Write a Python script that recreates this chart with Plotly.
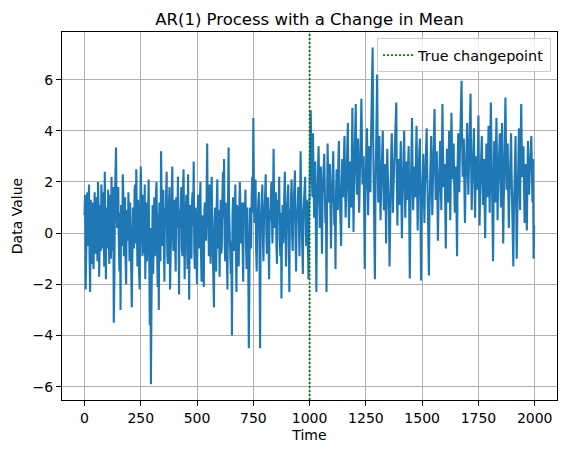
import plotly.graph_objects as go

# values: one sample every 5 time steps, plus the in-between samples
step = 5
changepoint = 1000

values_0 = [0.7, -2.2, 0.9, -0.5, 1.9, -2.3, 0.4, 1.2, -1.4, 1.6, -0.8, 0.3, 2.0, -1.7, 1.1, 1.9, -0.6, 0.8, 2.4, -1.8,
            0.5, 1.7, -1.2, 0.9, 2.2, -0.7, -3.5, 1.3, 3.35, 0.2, 1.8, -1.5, -3.0, 0.6, 2.3, -0.9, 1.4, -2.0, 0.8, 1.6,
            -1.1, 0.4, -2.9, 1.0, -0.6, 1.9, 2.5, -1.3, 0.7, -2.2, 2.6, 0.1, 1.5, -0.8, -1.8, 1.2, -0.3, 2.1, -3.6, -5.9,
            0.9, -1.6, 1.4, -0.4, 2.0, -2.1, -3.0, 0.8, 3.2, -0.5, 1.7, -1.9, 0.3, 2.4, -1.2, 1.0, -2.2, 0.5, 2.6, -0.7,
            1.3, -1.5, 0.6, 2.2, -2.4, 0.2, 1.8, -0.9, 2.5, -1.8, 0.9, -0.2, 2.3, -2.6, 1.1, -1.0, 1.6, 2.8, -1.4, 0.4]
values_1 = [-2.0, 1.5, -0.6, 2.0, -1.9, 0.7, -2.1, 1.2, -0.3, 3.5, 0.5, 1.9, -1.2, 2.2, -0.8, -2.9, 1.0, -1.5, 2.1, 0.2,
            -1.7, 1.3, -0.5, 2.4, 2.9, -1.1, 0.6, -2.2, 3.35, 0.1, -1.6, -4.0, 1.4, -0.7, 1.9, -2.3, 0.8, -1.3, 2.0, -0.4,
            1.2, -1.9, 0.5, 1.7, -1.4, 0.3, -4.5, 1.0, -0.6, 2.2, 4.5, 0.4, 2.1, -1.5, 0.8, 1.6, -4.5, 0.6, 1.9, -1.1,
            0.9, 2.3, -0.8, 1.4, -1.8, 0.5, 2.0, -0.4, 3.3, 0.2, 1.6, -1.2, 0.7, 2.2, -0.9, -2.55, 1.1, 0.0, 2.4, -1.3,
            0.8, 1.9, -2.3, 0.4, 2.1, -0.7, 1.2, 2.45, -1.5, 0.6, 1.8, -0.9, 3.2, 0.3, -1.6, 1.5, 2.2, -0.5, 1.0, -1.8]
values_2 = [1.6, 4.8, 2.2, 3.9, 0.6, 2.8, -2.3, 1.5, 3.4, 0.2, 2.6, -0.8, 1.9, 3.1, 0.4, -2.3, 3.5, 1.2, 2.7, -0.6,
            1.8, 3.2, 0.3, -1.4, 2.5, 0.9, 3.6, 1.1, -0.5, 2.9, 1.4, 3.8, 0.6, 2.3, 4.3, 0.2, 2.8, 1.0, 4.9, 0.05,
            3.3, 5.05, 1.5, 3.7, 0.8, 2.6, 5.25, 1.9, 3.0, -1.4, 2.2, 4.1, 0.7, 3.4, 1.6, 4.4, 7.25, 2.0, -1.8, 3.1,
            6.2, 1.2, 3.8, 0.5, 2.4, 4.0, 0.9, 2.7, -0.4, 3.3, 1.5, -1.3, 2.1, 3.9, 0.8, 2.5, 4.2, 5.1, 0.3, 2.9,
            1.1, 3.6, -0.2, 2.3, 4.0, 0.6, 2.8, 1.3, 3.4, -1.77, 1.9, 4.5, 0.9, 2.6, 1.4, 4.2, 0.1, 2.9, 3.7, -1.85]
values_3 = [1.5, 3.1, 0.4, 2.6, 4.1, 1.0, -1.65, 2.3, 3.8, 0.7, 2.9, 4.85, 1.3, 3.2, -0.3, 2.4, 3.6, 0.9, 5.05, 1.8,
            2.7, -0.6, 3.3, 1.2, 4.0, 0.5, 4.7, 2.1, 3.5, 0.8, 2.6, -0.9, 3.9, 1.6, 4.4, 5.95, 2.2, 3.7, 0.4, 2.9,
            4.3, 1.5, 3.4, 5.45, 0.9, 2.8, 4.1, 0.6, 3.0, 1.7, 4.6, 0.3, 2.5, 3.8, 1.1, 2.9, -0.2, 3.5, 1.4, 4.2,
            0.8, 5.1, 2.3, -1.1, 3.6, 1.2, 4.5, 0.5, 2.7, 3.9, 1.0, 4.3, -0.4, 2.4, 5.3, 1.7, 3.5, 0.2, 2.8, 3.9,
            0.6, -1.3, 2.5, 3.8, -1.0, 1.9, 4.1, 0.9, 5.05, 2.2, 3.4, 0.4, 2.7, 0.1, 3.6, 1.5, 3.0, 3.8, 1.2, -1.0]

# in-between samples (time 2.5, 7.5, ...)
mid_0 = [1.5, -0.9, 1.6, 0.8, -1.0, 1.3, -1.2, 0.5, 0.6, -0.4, 1.4, -1.1, 0.9, 0.6, -0.7, 1.2, 1.6, -1.3, 0.2, 1.0,
         -0.6, 0.4, 1.5, -1.0, 0.6, 1.8, -1.9, 2.1, 0.9, 1.5, -0.4, 0.8, 1.1, -0.5, 1.5, 0.7, -1.2, 0.9, -0.3, 0.4,
         1.2, -1.4, 0.8, 0.2, 1.7, -0.4, 0.6, 1.3, -1.6, 0.9, 1.1, -0.9, 0.3, 1.9, 0.4, -1.1, 1.4, -0.8, 0.2, -2.8,
         1.1, 0.3, -0.9, 1.6, -0.6, 0.8, 1.2, -1.1, 1.5, 0.6, -0.4, 1.0, 1.6, -0.8, 0.4, 1.8, -0.7, 1.5, 0.2, 1.1,
         -0.5, 1.4, 0.2, -1.3, 0.9, 1.1, -0.6, 1.7, 0.1, 0.7, 1.5, -1.4, 0.4, 0.8, -0.3, 1.2, 0.3, -0.6, 1.0, -1.2]
mid_1 = [0.8, -0.4, 1.3, -0.8, 0.6, -1.1, 0.9, 0.4, 1.6, 0.2, -0.9, 1.0, 0.5, 0.3, -1.6, 0.4, 0.3, 1.2, -0.6, 0.9,
         0.5, -0.8, 1.4, 0.6, -0.3, 1.2, -1.0, 1.1, 0.8, -1.2, -0.3, 0.7, 1.0, 0.9, -0.6, 1.1, -0.7, 0.8, 1.1, 0.5,
         -0.6, 1.2, 0.9, -0.5, 1.0, -1.3, 0.7, 0.3, 1.4, 0.8, 1.9, 0.9, -0.7, 0.6, 1.3, -0.9, 0.1, 1.4, -0.2, 0.7,
         1.5, 0.1, 1.0, -0.4, 0.9, 1.3, 0.6, 1.2, 1.0, 0.7, -0.5, 1.3, 1.2, -0.3, 0.8, 0.2, -0.4, 1.5, 0.6, 0.4,
         1.3, -0.6, 0.9, 1.4, -0.2, 0.8, 1.9, -0.3, 0.9, 1.2, 0.3, 1.1, 1.4, -0.5, 0.7, 1.8, 0.4, 1.3, -0.6, 0.9]
mid_2 = [3.7, 3.0, 1.4, 2.6, 2.1, 0.5, 0.8, 2.9, 1.6, 1.3, 0.9, 1.5, 2.8, 1.7, 0.9, 1.1, 2.2, 2.4, 1.1, 1.0,
         2.7, 1.4, 1.2, 1.6, 1.3, 2.7, 2.0, 0.9, 1.8, 2.2, 3.0, 1.9, 1.5, 3.4, 1.8, 1.6, 1.7, 3.1, 2.4, 1.9,
         4.2, 2.6, 2.9, 1.8, 1.9, 4.0, 3.2, 2.1, 0.8, 1.5, 3.2, 2.0, 2.4, 2.1, 3.5, 5.3, 3.6, 0.9, 1.4, 4.5,
         3.1, 2.6, 1.9, 1.6, 3.3, 2.1, 1.8, 1.3, 1.9, 2.3, 0.9, 1.0, 3.1, 2.2, 1.7, 3.4, 4.0, 2.1, 1.9, 1.8,
         2.5, 1.4, 1.3, 3.1, 2.2, 1.8, 2.1, 2.7, 0.8, 0.6, 3.1, 2.4, 1.8, 2.0, 3.0, 1.9, 1.6, 3.3, 1.2, 0.7]
mid_3 = [2.4, 1.6, 1.8, 3.3, 2.5, 0.4, 0.9, 3.0, 2.1, 1.9, 3.6, 2.7, 2.4, 1.5, 1.2, 3.0, 2.1, 2.8, 3.2, 2.3,
         1.0, 1.7, 2.2, 2.9, 2.1, 2.9, 3.4, 2.8, 1.9, 1.8, 0.9, 2.6, 2.8, 3.1, 4.8, 3.7, 3.0, 1.9, 1.8, 3.5,
         2.7, 2.5, 4.2, 2.8, 1.9, 3.4, 2.2, 2.0, 2.4, 3.1, 2.2, 1.6, 3.1, 2.4, 1.9, 1.1, 1.7, 2.3, 3.0, 2.4,
         3.2, 3.6, 0.6, 1.4, 2.5, 3.2, 2.6, 1.9, 3.3, 2.2, 2.8, 1.5, 1.2, 3.8, 3.4, 2.6, 1.6, 1.4, 3.4, 2.2,
         -0.3, 0.9, 3.1, 1.2, 0.5, 3.0, 2.6, 3.3, 3.4, 2.7, 1.8, 1.6, 1.2, 2.1, 2.4, 2.3, 3.4, 2.6, 2.9, 0.3]

main = values_0 + values_1 + values_2 + values_3
mid = mid_0 + mid_1 + mid_2 + mid_3

time, data = [], []
for i, (a, b) in enumerate(zip(main, mid)):
    time += [i * step, i * step + step / 2]
    data += [a, b]

font = "DejaVu Sans"

fig = go.Figure()
fig.add_trace(go.Scatter(x=time, y=data, mode="lines",
                         line=dict(color="#1f77b4", width=2.1),
                         showlegend=False, hoverinfo="skip"))
fig.add_vline(x=changepoint, line=dict(color="green", width=1.8, dash="2px,2px"),
              showlegend=True, name="True changepoint")

axis = dict(showline=True, mirror=True, linecolor="black", linewidth=1,
            showgrid=True, gridcolor="#b0b0b0", gridwidth=1, zeroline=False,
            ticks="outside", ticklen=5, tickwidth=1, tickcolor="black", automargin=False,
            tickfont=dict(family=font, size=14, color="black"))

fig.update_xaxes(**axis, range=[-100, 2099], tick0=0, dtick=250,
                 title=dict(text="Time", font=dict(family=font, size=14, color="black"), standoff=5))
fig.update_yaxes(**axis, range=[-6.52, 7.86], tick0=-6, dtick=2,
                 title=dict(text="Data Value", font=dict(family=font, size=14, color="black"), standoff=6))

# the page body adds an 8px offset, so the figure is sized and placed to allow for it
fig.update_layout(
    width=558, height=446,
    margin=dict(l=54, r=9, t=24, b=54, autoexpand=False),
    paper_bgcolor="white", plot_bgcolor="white",
    font=dict(family=font, color="black"),
    title=dict(text="AR(1) Process with a Change in Mean", x=0.5, xref="paper", xanchor="center",
               y=1, yref="paper", yanchor="bottom", pad=dict(b=7), automargin=False,
               font=dict(family=font, size=16.5, color="black")),
    legend=dict(x=0.988, y=0.983, xanchor="right", yanchor="top",
                bgcolor="rgba(255,255,255,0.8)", bordercolor="#cccccc", borderwidth=1,
                font=dict(family=font, size=14.4, color="black")),
)

fig.write_html("out.html")
